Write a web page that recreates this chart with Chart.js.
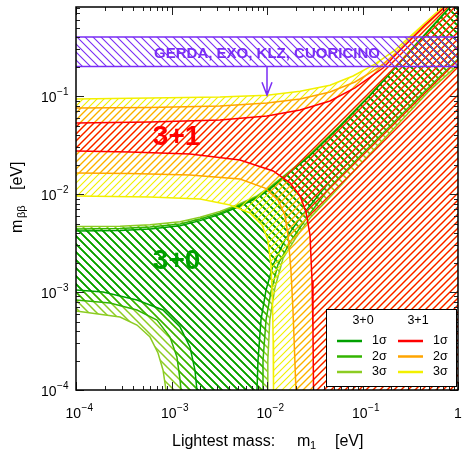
<!DOCTYPE html>
<html>
<head>
<meta charset="utf-8">
<script src="https://cdn.jsdelivr.net/npm/chart.js@4.4.0/dist/chart.umd.min.js"></script>
<style>
  html, body { margin: 0; padding: 0; background: #fff; }
  #wrap { width: 463px; height: 451px; position: relative; }
</style>
</head>
<body>
<div id="wrap"><canvas id="chart"></canvas></div>
<script>
const FONT = '"Liberation Sans", Arial, sans-serif';

// colours: [1σ, 2σ, 3σ]
const c30 = ['#00a000', '#33b400', '#8ccc22'];
const c31 = ['#ff0000', '#ffa500', '#f2f000'];
const cGerda = '#7a2df5';

// 3+0 upper edge, shared m1 grid [eV] -> m_bb [eV]
const m1Up30 = [5e-5, 1e-4, 2.89e-4, 5.96e-4, 1.23e-3, 1.99e-3, 3.22e-3, 5.21e-3, 7.85e-3, 1.07e-2, 1.54e-2, 2.82e-2, 5.81e-2, 0.12, 0.247, 0.509, 1.05, 2];
const up30_1s = [4.2e-3, 4.2e-3, 4.25e-3, 4.4e-3, 4.75e-3, 5.35e-3, 6.2e-3, 7.5e-3, 9.1e-3, 1.12e-2, 1.5e-2, 2.46e-2, 4.88e-2, 0.101, 0.220, 0.48, 1.04, 2];
const up30_2s = [4.4e-3, 4.4e-3, 4.45e-3, 4.6e-3, 4.94e-3, 5.56e-3, 6.4e-3, 7.73e-3, 9.32e-3, 1.15e-2, 1.53e-2, 2.5e-2, 4.94e-2, 0.102, 0.222, 0.483, 1.05, 2];
const up30_3s = [4.65e-3, 4.65e-3, 4.7e-3, 4.85e-3, 5.2e-3, 5.8e-3, 6.65e-3, 7.95e-3, 9.55e-3, 1.18e-2, 1.56e-2, 2.54e-2, 5.0e-2, 0.103, 0.224, 0.487, 1.06, 2];

// 3+0 lower edge: drops to zero (1e-6 stands for 0 on the log axis) and rises again
const lo30_1s = [[5e-5, 1.05e-3], [1e-4, 1.05e-3], [1.92e-4, 1.0e-3], [4.35e-4, 8.28e-4], [8.15e-4, 6.55e-4],
  [1.23e-3, 4.39e-4], [1.56e-3, 2.75e-4], [1.76e-3, 1.6e-4], [1.85e-3, 9.8e-5], [1.95e-3, 1e-6],
  [7.7e-3, 1e-6], [7.85e-3, 9.8e-5], [8.05e-3, 2.0e-4], [8.65e-3, 5.2e-4], [9.77e-3, 1.05e-3],
  [1.16e-2, 1.9e-3], [1.54e-2, 3.4e-3], [2.22e-2, 5.7e-3], [4.57e-2, 1.36e-2], [9.88e-2, 2.88e-2],
  [0.43, 0.12], [1.05, 0.285], [2, 0.55]];
const lo30_2s = [[5e-5, 8.28e-4], [1e-4, 8.28e-4], [2.27e-4, 7.72e-4], [4.35e-4, 6.55e-4], [7.05e-4, 5.18e-4],
  [9.64e-4, 3.47e-4], [1.14e-3, 2.17e-4], [1.23e-3, 1.26e-4], [1.26e-3, 9.8e-5], [1.3e-3, 1e-6],
  [8.7e-3, 1e-6], [8.87e-3, 9.8e-5], [9.08e-3, 2.0e-4], [9.77e-3, 5.2e-4], [1.1e-2, 1.0e-3],
  [1.3e-2, 1.9e-3], [1.74e-2, 3.2e-3], [2.5e-2, 5.4e-3], [4.57e-2, 1.18e-2], [9.88e-2, 2.55e-2],
  [0.43, 0.107], [1.05, 0.25], [2, 0.48]];
const lo30_3s = [[5e-5, 6.4e-4], [1e-4, 6.4e-4], [2.89e-4, 5.56e-4], [4.35e-4, 4.6e-4], [5.96e-4, 3.47e-4],
  [7.22e-4, 2.39e-4], [8.15e-4, 1.6e-4], [8.76e-4, 1.0e-4], [9.1e-4, 1e-6],
  [9.8e-3, 1e-6], [1.0e-2, 9.8e-5], [1.02e-2, 2.0e-4], [1.07e-2, 5.2e-4], [1.21e-2, 1.1e-3],
  [1.47e-2, 2.2e-3], [2.01e-2, 3.6e-3], [2.82e-2, 5.7e-3], [4.57e-2, 9.3e-3], [9.88e-2, 2.1e-2],
  [0.509, 0.115], [1.05, 0.217], [2, 0.42]];

// 3+1 upper edge
const up31_1s = [[5e-5, 0.053], [1e-4, 0.053], [5.96e-4, 0.0543], [3.22e-3, 0.0569], [1e-2, 0.0625], [2.22e-2, 0.072],
  [4.57e-2, 0.0889], [8.34e-2, 0.121], [0.164, 0.193], [0.279, 0.331], [0.451, 0.53], [0.767, 0.849], [1.18, 1.26], [2, 2.1]];
const up31_2s = [[5e-5, 0.0755], [1e-4, 0.0755], [5.96e-4, 0.0764], [3.22e-3, 0.0791], [1e-2, 0.0849], [2.22e-2, 0.0932],
  [4.57e-2, 0.110], [8.34e-2, 0.139], [0.145, 0.193], [0.235, 0.281], [0.381, 0.44], [0.648, 0.72], [1.10, 1.21], [2, 2.1]];
const up31_3s = [[5e-5, 0.0932], [1e-4, 0.0932], [5.96e-4, 0.0955], [3.22e-3, 0.0977], [1e-2, 0.102], [2.22e-2, 0.112],
  [4.57e-2, 0.129], [7.96e-2, 0.160], [0.135, 0.212], [0.219, 0.294], [0.355, 0.45], [0.603, 0.72], [1.05, 1.21], [2, 2.1]];

// 3+1 lower edge (goes to zero, then stays there)
const lo31_1s = [[5e-5, 0.0275], [1e-4, 0.0275], [3.67e-4, 0.0268], [1.56e-3, 0.0256], [5.21e-3, 0.0222], [1.16e-2, 0.0172],
  [1.74e-2, 0.0130], [2.22e-2, 9.55e-3], [2.56e-2, 6.55e-3], [2.82e-2, 3.82e-3], [2.96e-2, 1.32e-3], [3.03e-2, 4.1e-4],
  [3.07e-2, 9.8e-5], [3.1e-2, 1e-6], [2, 1e-6]];
const lo31_2s = [[5e-5, 0.0164], [1e-4, 0.0164], [3.67e-4, 0.0162], [1.56e-3, 0.0156], [5.21e-3, 0.0142], [9.53e-3, 0.0115],
  [1.30e-2, 8.69e-3], [1.54e-2, 6.1e-3], [1.66e-2, 3.82e-3], [1.78e-2, 1.68e-3], [1.87e-2, 6.55e-4], [1.94e-2, 2.56e-4],
  [2.01e-2, 9.8e-5], [2.05e-2, 1e-6], [2, 1e-6]];
const lo31_3s = [[5e-5, 9.55e-3], [1e-4, 9.55e-3], [5.96e-4, 9.32e-3], [1.99e-3, 8.89e-3], [4.1e-3, 7.73e-3], [6.64e-3, 6.4e-3],
  [8.87e-3, 4.83e-3], [1.02e-2, 3.4e-3], [1.10e-2, 1.89e-3], [1.14e-2, 8.28e-4], [1.16e-2, 3.24e-4], [1.17e-2, 9.8e-5],
  [1.19e-2, 1e-6], [2, 1e-6]];

// experimental bound band
const gerdaX = [5e-5, 2];
const gerdaLow = 0.2, gerdaHigh = 0.4;

// annotation anchors in data units
const gerdaText = [1e-2, 0.27];
const arrowTo = [1e-2, 0.102];
const label31 = [1.13e-3, 0.0377];
const label30 = [1.13e-3, 2.07e-3];
const sigmas = ['1σ', '2σ', '3σ'];

const canvas = document.getElementById('chart');
const mainCtx = canvas.getContext('2d');

function hatch(color, size, width, up) {
  const c = document.createElement('canvas');
  c.width = c.height = size;
  const g = c.getContext('2d');
  g.strokeStyle = color;
  g.lineWidth = width;
  g.beginPath();
  if (up) {
    g.moveTo(-1, size + 1); g.lineTo(size + 1, -1);
    g.moveTo(-1, 1); g.lineTo(1, -1);
    g.moveTo(size - 1, size + 1); g.lineTo(size + 1, size - 1);
  } else {
    g.moveTo(-1, -1); g.lineTo(size + 1, size + 1);
    g.moveTo(size - 1, -1); g.lineTo(size + 1, 1);
    g.moveTo(-1, size - 1); g.lineTo(1, size + 1);
  }
  g.stroke();
  return mainCtx.createPattern(c, 'repeat');
}

const toPts = arr => arr.map(([x, y]) => ({x, y}));
function band(lower, upper) {
  return toPts(lower).concat(toPts(upper).reverse());
}
function region(pts, color, pattern) {
  return {
    data: pts, borderColor: color, backgroundColor: pattern, borderWidth: 1.5,
    fill: 'shape', showLine: true, pointRadius: 0, tension: 0
  };
}

const up30 = [up30_1s, up30_2s, up30_3s].map(v => m1Up30.map((m, i) => [m, v[i]]));
const lo30 = [lo30_1s, lo30_2s, lo30_3s];
const up31 = [up31_1s, up31_2s, up31_3s];
const lo31 = [lo31_1s, lo31_2s, lo31_3s];

const gerdaPts = [
  {x: gerdaX[0], y: gerdaLow}, {x: gerdaX[1], y: gerdaLow},
  {x: gerdaX[1], y: gerdaHigh}, {x: gerdaX[0], y: gerdaHigh}
];

// first dataset is drawn on top
const datasets = [region(gerdaPts, cGerda, hatch(cGerda, 8, 1.1, false))];
for (let i = 0; i < 3; i++) datasets.push(region(band(lo31[i], up31[i]), c31[i], hatch(c31[i], 7, 1.15, true)));
for (let i = 0; i < 3; i++) datasets.push(region(band(lo30[i], up30[i]), c30[i], hatch(c30[i], 8, 1.5, false)));

function logTicks(min, max) {
  const out = [];
  for (let e = Math.floor(Math.log10(min)); e <= Math.ceil(Math.log10(max)); e++) {
    for (let k = 1; k <= 9; k++) {
      const v = k * Math.pow(10, e);
      if (v >= min * 0.999 && v <= max * 1.001) out.push({v, major: k === 1, e});
    }
  }
  return out;
}

function drawPow(ctx, e, anchorX, base, align) {
  ctx.fillStyle = '#000';
  ctx.textBaseline = 'alphabetic';
  ctx.textAlign = 'left';
  if (e === 0) {
    ctx.font = '14px ' + FONT;
    const w = ctx.measureText('1').width;
    ctx.fillText('1', align === 'center' ? anchorX - w / 2 : anchorX - w, base);
    return;
  }
  ctx.font = '14px ' + FONT;
  const w1 = ctx.measureText('10').width;
  const sup = '\u2212' + (-e);
  ctx.font = '10px ' + FONT;
  const w2 = ctx.measureText(sup).width;
  const x0 = align === 'center' ? anchorX - (w1 + w2) / 2 : anchorX - w1 - w2;
  ctx.font = '14px ' + FONT;
  ctx.fillText('10', x0, base);
  ctx.font = '10px ' + FONT;
  ctx.fillText(sup, x0 + w1 + 0.5, base - 7);
}

const deco = {
  id: 'deco',
  afterDatasetsDraw(chart) {
    const {ctx, chartArea: a, scales: {x, y}} = chart;
    ctx.save();

    // experiment label and arrow
    ctx.fillStyle = cGerda;
    ctx.font = 'bold 15px ' + FONT;
    ctx.textAlign = 'center';
    ctx.textBaseline = 'middle';
    ctx.fillText('GERDA, EXO, KLZ, CUORICINO', x.getPixelForValue(gerdaText[0]), y.getPixelForValue(gerdaText[1]));
    const ax = x.getPixelForValue(arrowTo[0]);
    const ay0 = y.getPixelForValue(gerdaLow);
    const ay1 = y.getPixelForValue(arrowTo[1]);
    ctx.strokeStyle = cGerda;
    ctx.lineWidth = 1.5;
    ctx.beginPath();
    ctx.moveTo(ax, ay0); ctx.lineTo(ax, ay1);
    ctx.moveTo(ax - 5, ay1 - 13); ctx.lineTo(ax, ay1); ctx.lineTo(ax + 5, ay1 - 13);
    ctx.stroke();

    // model labels
    ctx.font = 'bold 28px ' + FONT;
    ctx.fillStyle = c31[0];
    ctx.fillText('3+1', x.getPixelForValue(label31[0]), y.getPixelForValue(label31[1]));
    ctx.fillStyle = c30[0];
    ctx.fillText('3+0', x.getPixelForValue(label30[0]), y.getPixelForValue(label30[1]));

    // inward ticks on all four sides
    ctx.strokeStyle = '#222';
    ctx.lineWidth = 1;
    ctx.beginPath();
    for (const t of logTicks(x.min, x.max)) {
      const p = Math.round(x.getPixelForValue(t.v)) + 0.5;
      const len = t.major ? 8 : 4;
      ctx.moveTo(p, a.bottom); ctx.lineTo(p, a.bottom - len);
      ctx.moveTo(p, a.top); ctx.lineTo(p, a.top + len);
    }
    for (const t of logTicks(y.min, y.max)) {
      const p = Math.round(y.getPixelForValue(t.v)) + 0.5;
      const len = t.major ? 8 : 4;
      ctx.moveTo(a.left, p); ctx.lineTo(a.left + len, p);
      ctx.moveTo(a.right, p); ctx.lineTo(a.right - len, p);
    }
    ctx.stroke();

    // legend box
    const lx = a.right - 132, ly = a.bottom - 81;
    ctx.fillStyle = '#fff';
    ctx.fillRect(lx, ly, 130, 77);
    ctx.strokeStyle = '#000';
    ctx.lineWidth = 1;
    ctx.strokeRect(lx + 0.5, ly + 0.5, 130, 77);
    ctx.fillStyle = '#000';
    ctx.font = '12.5px ' + FONT;
    ctx.textAlign = 'center';
    ctx.textBaseline = 'middle';
    ctx.fillText('3+0', lx + 37, ly + 12);
    ctx.fillText('3+1', lx + 92, ly + 12);
    ctx.textAlign = 'left';
    sigmas.forEach((s, i) => {
      const ry = ly + 32 + i * 15.5;
      ctx.lineWidth = 2.5;
      ctx.strokeStyle = c30[i];
      ctx.beginPath(); ctx.moveTo(lx + 11, ry); ctx.lineTo(lx + 36, ry); ctx.stroke();
      ctx.strokeStyle = c31[i];
      ctx.beginPath(); ctx.moveTo(lx + 72, ry); ctx.lineTo(lx + 97, ry); ctx.stroke();
      ctx.fillStyle = '#000';
      ctx.fillText(s, lx + 46, ry);
      ctx.fillText(s, lx + 107, ry);
    });

    // frame
    ctx.strokeStyle = '#000';
    ctx.lineWidth = 1.5;
    ctx.strokeRect(a.left, a.top, a.right - a.left, a.bottom - a.top);
    ctx.restore();
  },
  afterDraw(chart) {
    const {ctx, chartArea: a, scales: {x, y}} = chart;
    ctx.save();
    for (const t of logTicks(x.min, x.max)) {
      if (t.major) drawPow(ctx, t.e, x.getPixelForValue(t.v) + (t.e === 0 ? 0 : 3), a.bottom + 28, 'center');
    }
    for (const t of logTicks(y.min, y.max)) {
      if (t.major) drawPow(ctx, t.e, a.left - 8, y.getPixelForValue(t.v) + 6, 'right');
    }

    // axis titles
    ctx.fillStyle = '#000';
    ctx.textAlign = 'left';
    ctx.textBaseline = 'alphabetic';
    ctx.font = '16px ' + FONT;
    ctx.fillText('Lightest mass:', 172, 446);
    ctx.fillText('m', 297, 446);
    ctx.fillText('[eV]', 335, 446);
    ctx.font = '11px ' + FONT;
    ctx.fillText('1', 310, 449);

    ctx.translate(22, 233);
    ctx.rotate(-Math.PI / 2);
    ctx.font = '16px ' + FONT;
    ctx.fillText('m', 0, 0);
    ctx.fillText('[eV]', 43, 0);
    ctx.font = '11px ' + FONT;
    ctx.fillText('ββ', 15, 3);
    ctx.restore();
  }
};

new Chart(canvas, {
  type: 'scatter',
  data: {datasets},
  options: {
    responsive: true,
    maintainAspectRatio: false,
    animation: false,
    events: [],
    layout: {padding: {left: 76, right: 5, top: 7, bottom: 61}},
    scales: {
      x: {type: 'logarithmic', min: 1e-4, max: 1, display: false},
      y: {type: 'logarithmic', min: 1e-4, max: 0.81, display: false}
    },
    plugins: {legend: {display: false}, tooltip: {enabled: false}}
  },
  plugins: [deco]
});
</script>
</body>
</html>
